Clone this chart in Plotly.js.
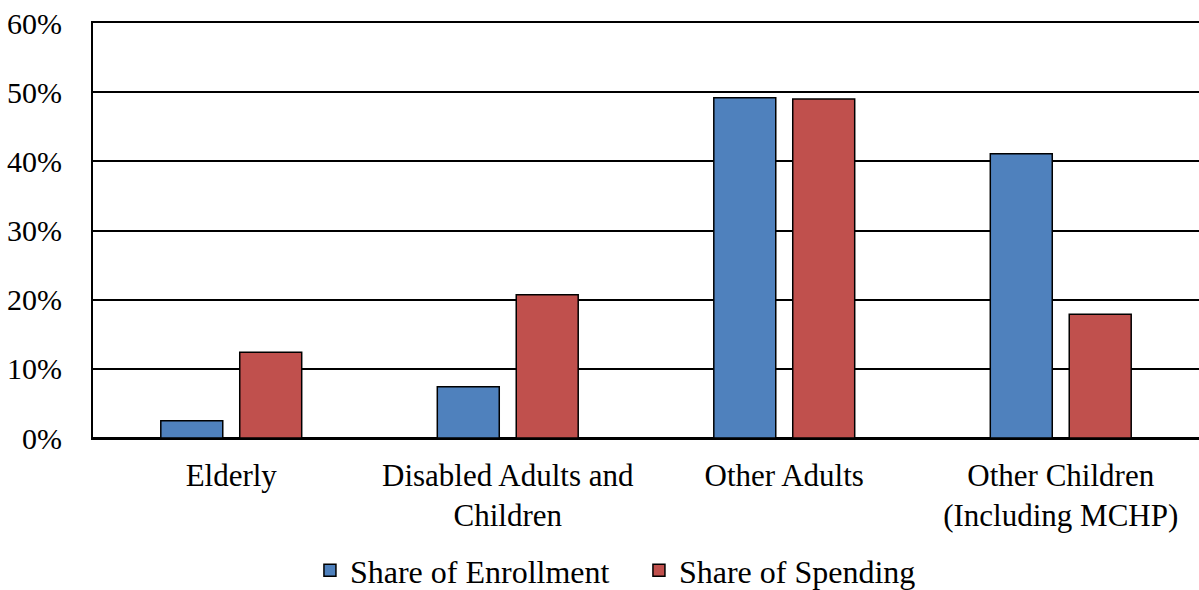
<!DOCTYPE html>
<html>
<head>
<meta charset="utf-8">
<script src="https://cdn.plot.ly/plotly-3.0.1.min.js"></script>
<style>html,body{margin:0;padding:0;background:#fff;}#chart{width:1199px;height:590px;}</style>
</head>
<body>
<div id="chart"></div>
<script>
const categories = ["Elderly", "Disabled Adults and<br>Children", "Other Adults", "Other Children<br>(Including MCHP)"];
const enrollment = [0.025, 0.074, 0.492, 0.411];
const spending = [0.124, 0.207, 0.490, 0.179];
const seriesNames = ["Share of Enrollment", "Share of Spending"];
const yTickVals = [0, 0.1, 0.2, 0.3, 0.4, 0.5, 0.6];

const fam = "Liberation Serif";

const traces = [
  {type: "bar", name: seriesNames[0], x: categories, y: enrollment,
   marker: {color: "#4f81bd", line: {color: "#000", width: 1.5}}},
  {type: "bar", name: seriesNames[1], x: categories, y: spending,
   marker: {color: "#c0504d", line: {color: "#000", width: 1.5}}}
];

const layout = {
  width: 1199, height: 590,
  margin: {l: 93, r: 0, t: 23, b: 152, pad: 0},
  paper_bgcolor: "#fff", plot_bgcolor: "#fff",
  font: {family: fam, size: 31, color: "#000"},
  barmode: "group", bargap: 0.429, bargroupgap: 0.215,
  showlegend: true,
  legend: {orientation: "h", x: 0.2585, xanchor: "left", xref: "container",
           y: 0.033, yanchor: "middle", yref: "container",
           entrywidth: 284, entrywidthmode: "pixels",
           font: {family: fam, size: 32, color: "#000"}, itemwidth: 30},
  xaxis: {type: "category", showgrid: false, zeroline: false, showline: true, mirror: true,
          linecolor: "#000", linewidth: 1.5,
          ticks: "outside", ticklen: 9, tickcolor: "rgba(0,0,0,0)",
          tickfont: {family: fam, size: 31, color: "#000"}},
  yaxis: {range: [0, 0.6], tickvals: yTickVals, tickformat: ".0%",
          showgrid: true, gridcolor: "#000", gridwidth: 1.5,
          zeroline: true, zerolinecolor: "#000", zerolinewidth: 1.5,
          showline: true, linecolor: "#000", linewidth: 2,
          ticks: "outside", ticklen: 23, tickcolor: "rgba(0,0,0,0)",
          tickfont: {family: fam, size: 30, color: "#000"}}
};

Plotly.newPlot("chart", traces, layout, {displayModeBar: false});
</script>
</body>
</html>
